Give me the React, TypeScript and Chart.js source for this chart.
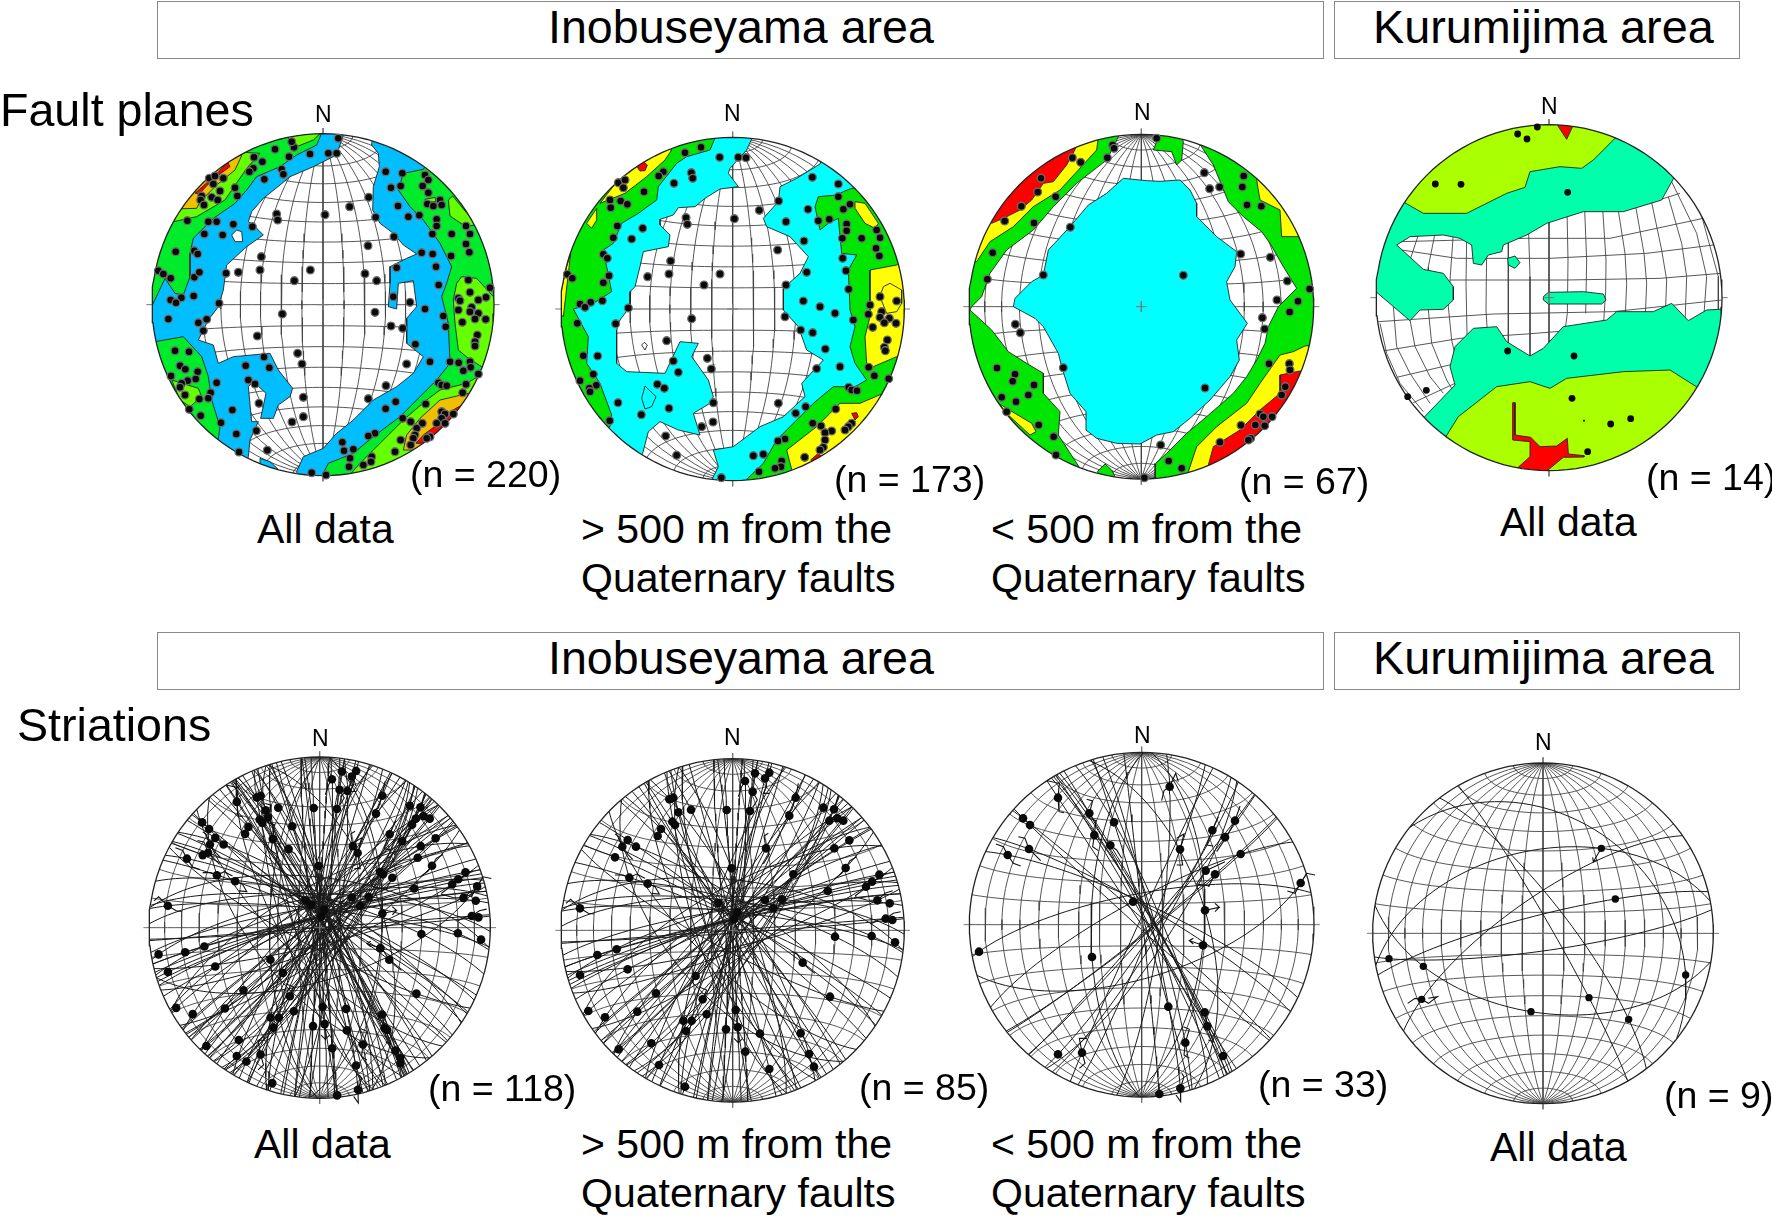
import React, { useEffect, useRef } from "react";
import { Chart, registerables } from "chart.js";

type P = number[];

// ---- text ----
const headerBoxes = [
  { x: 157, y: 1, w: 1167, h: 58 }, { x: 1334, y: 1, w: 406, h: 58 },
  { x: 157, y: 632, w: 1167, h: 58 }, { x: 1334, y: 632, w: 406, h: 58 },
];
const labels: [string, number, number, number][] = [
  ["Inobuseyama area", 548, 27, 46.6], ["Kurumijima area", 1373, 27, 46.8],
  ["Inobuseyama area", 548, 658, 46.6], ["Kurumijima area", 1373, 658, 46.8],
  ["Fault planes", 0, 110, 46.6], ["Striations", 17, 725, 46.6],
  ["N", 315, 114, 23], ["N", 724, 113, 23], ["N", 1134, 112, 23], ["N", 1541, 106, 23],
  ["N", 312, 738, 23], ["N", 724, 737, 23], ["N", 1134, 735, 23], ["N", 1535, 742, 23],
  ["(n = 220)", 410, 475, 37.5], ["(n = 173)", 834, 480, 37.5], ["(n = 67)", 1239, 482, 37.5], ["(n = 14)", 1646, 478, 37.5],
  ["(n = 118)", 428, 1089, 37.5], ["(n = 85)", 859, 1088, 37.5], ["(n = 33)", 1258, 1085, 37.5], ["(n = 9)", 1664, 1096, 37.5],
  ["All data", 257, 529, 41], ["> 500 m from the", 581, 529, 41], ["Quaternary faults", 581, 578, 41],
  ["< 500 m from the", 991, 529, 41], ["Quaternary faults", 991, 578, 41], ["All data", 1500, 522, 41],
  ["All data", 254, 1144, 41], ["> 500 m from the", 581, 1144, 41], ["Quaternary faults", 581, 1193, 41],
  ["< 500 m from the", 991, 1144, 41], ["Quaternary faults", 991, 1193, 41], ["All data", 1490, 1147, 41],
];

// ---- contour levels ----
const levelColours: Record<string, string> = {
  blue: "#00BEFF", cyan: "#00FFFF", green: "#00EB2A", pure: "#00E600", lime: "#64FF00", yellow: "#FFFF00",
  orange: "#F0C000", red: "#FF0000", spring: "#00FFAA", leaf: "#AAFF00", white: "#FFFFFF",
};

// ---- net 1 (fault planes, all data) ----
const contours1: [string, P[]][] = [
  ["blue", [[695,105],[715,130],[718,170],[700,230],[698,300],[720,340],[760,370],[790,405],[830,432],[800,445],[750,470],[750,520],[745,590],[770,597],[775,520],[820,512],[830,590],[800,625],[800,700],[850,740],[820,790],[770,830],[700,870],[640,930],[590,970],[550,1015],[490,1040],[470,1085],[480,1130],[700,1135],[1135,1135],[1135,50],[700,50]]],
  ["blue", [[615,60],[590,135],[520,170],[450,200],[420,225],[370,265],[335,305],[325,335],[340,345],[370,375],[320,410],[260,465],[250,540],[235,590],[205,630],[175,690],[220,705],[235,760],[280,740],[390,730],[415,780],[458,835],[450,860],[415,885],[400,925],[362,925],[378,850],[340,815],[325,830],[335,935],[355,935],[330,990],[325,1040],[300,1135],[5,1135],[5,40],[615,40]]],
  ["blue", [[360,1045],[390,1055],[415,1078],[400,1095],[360,1065]]],
  ["white", [[275,375],[290,360],[305,365],[308,395],[285,395]]],
  ["green", [[553,50],[530,105],[470,135],[420,170],[350,200],[320,240],[285,280],[220,325],[160,385],[150,430],[150,500],[130,555],[105,550],[75,505],[35,590],[5,590],[5,40]]],
  ["green", [[45,695],[130,680],[185,740],[205,800],[215,870],[240,950],[235,985],[200,1135],[5,1135],[5,695]]],
  ["green", [[850,178],[790,190],[775,240],[810,290],[850,330],[900,400],[935,470],[920,520],[905,560],[925,640],[930,760],[890,810],[840,860],[780,920],[700,980],[640,1030],[565,1060],[545,1100],[600,1135],[1135,1135],[1135,50],[900,100]]],
  ["lime", [[965,500],[1010,505],[1060,560],[1135,790],[1025,770],[985,745],[955,720],[945,640],[940,570],[950,520]]],
  ["lime", [[925,270],[938,258],[1010,345],[975,348],[930,318]]],
  ["lime", [[855,268],[885,262],[888,275],[860,275]]],
  ["lime", [[1030,790],[980,820],[900,840],[860,870],[790,930],[720,1000],[660,1060],[625,1100],[700,1135],[1135,1135]]],
  ["lime", [[360,130],[320,175],[255,270],[170,320],[100,335],[60,300],[190,120]]],
  ["lime", [[445,85],[470,110],[520,90],[552,60],[450,60]]],
  ["lime", [[95,810],[175,835],[185,860],[150,890],[120,870]]],
  ["orange", [[985,850],[900,870],[840,925],[800,975],[790,1020],[820,1020],[880,985],[975,885]]],
  ["red", [[975,880],[930,905],[890,945],[850,975],[828,1000],[845,1000],[880,985],[945,925]]],
  ["orange", [[305,137],[285,180],[230,225],[180,275],[170,295],[100,297],[170,200],[230,130]]],
  ["red", [[260,160],[232,190],[165,250],[180,250],[205,222],[240,192],[270,170],[250,130]]],
];
const net1Points: P[] = [[595,85],[510,132],[565,130],[590,130],[405,118],[462,112],[455,95],[447,140],[342,142],[367,155],[340,175],[328,185],[425,178],[430,193],[373,208],[208,205],[225,198],[250,205],[220,222],[240,243],[285,233],[292,258],[185,258],[182,270],[192,285],[215,262],[233,270],[142,332],[205,335],[230,335],[193,372],[280,343],[337,350],[248,375],[107,425],[163,422],[173,432],[55,482],[70,492],[92,505],[163,502],[178,487],[258,490],[295,487],[360,480],[364,440],[161,558],[124,563],[92,570],[108,578],[237,580],[85,627],[200,628],[175,638],[190,662],[352,678],[410,312],[413,330],[555,314],[629,290],[686,262],[707,322],[762,380],[684,407],[737,185],[787,190],[753,233],[782,228],[774,288],[805,320],[838,316],[855,195],[865,210],[848,228],[865,248],[862,282],[880,288],[900,270],[905,285],[890,328],[890,348],[877,372],[935,372],[978,348],[990,372],[978,402],[988,427],[845,428],[878,432],[933,438],[888,470],[770,473],[675,491],[710,512],[511,480],[463,512],[896,525],[985,510],[1050,533],[990,547],[955,565],[960,572],[1038,562],[1015,570],[760,560],[810,577],[855,597],[705,607],[427,612],[910,618],[955,600],[995,592],[990,605],[1015,610],[1005,627],[1037,628],[967,637],[917,650],[753,648],[788,655],[1012,675],[1005,695],[1005,708],[826,703],[870,755],[930,755],[956,758],[990,755],[992,772],[970,782],[1015,792],[800,762],[473,730],[486,762],[105,722],[147,725],[372,741],[317,767],[388,773],[120,767],[136,778],[93,798],[173,785],[167,807],[143,812],[125,820],[120,832],[230,818],[325,810],[345,822],[135,855],[212,848],[205,865],[178,867],[357,880],[490,862],[685,866],[738,827],[767,875],[737,896],[895,818],[905,825],[920,827],[978,823],[968,848],[857,882],[148,898],[182,917],[277,900],[490,920],[456,936],[243,938],[349,962],[289,972],[788,925],[812,935],[847,940],[830,955],[825,975],[820,985],[782,990],[905,905],[915,912],[905,925],[890,940],[915,940],[940,912],[870,980],[860,985],[705,970],[685,978],[607,997],[612,1022],[640,1018],[765,1025],[812,1005],[297,1026],[382,1021],[630,1045],[695,1040],[693,1055],[670,1065],[627,1070],[515,1088],[558,1095]];

// ---- net 2 (fault planes, > 500 m) ----
const contours2: [string, P[]][] = [
  ["cyan", [[617,60],[590,120],[540,175],[535,190],[565,230],[510,237],[465,265],[435,290],[385,293],[370,315],[330,328],[330,345],[360,375],[355,410],[280,425],[270,470],[255,530],[240,545],[240,590],[210,630],[200,660],[200,760],[230,785],[345,790],[390,695],[445,700],[425,740],[475,810],[490,860],[480,880],[430,910],[450,975],[385,960],[330,935],[295,965],[278,1030],[200,1135],[5,1135],[5,40],[617,40]]],
  ["cyan", [[810,162],[740,205],[690,230],[685,275],[640,325],[650,350],[720,380],[775,440],[750,490],[700,535],[700,600],[745,650],[770,720],[820,750],[755,820],[765,860],[700,920],[630,950],[550,1010],[490,1020],[505,1070],[480,1120],[500,1135],[1135,1135],[1135,50],[850,60]]],
  ["white", [[275,705],[283,697],[292,705],[285,720]]],
  ["cyan", [[275,865],[285,828],[318,860],[305,890],[285,897]]],
  ["pure", [[505,60],[480,120],[410,140],[380,160],[325,230],[320,270],[265,310],[215,340],[190,400],[160,420],[185,545],[130,580],[70,597],[115,680],[110,760],[150,820],[185,915],[180,950],[5,1000],[5,40],[505,40]]],
  ["pure", [[905,235],[880,245],[860,255],[805,260],[795,290],[810,360],[835,340],[865,325],[875,430],[920,435],[895,480],[900,600],[915,650],[900,710],[915,760],[950,810],[915,830],[850,830],[790,880],[730,940],[680,990],[640,1060],[590,1108],[620,1135],[1135,1135],[1135,200]]],
  ["yellow", [[365,120],[345,150],[290,200],[225,250],[150,280],[220,190],[280,100]]],
  ["yellow", [[140,295],[110,340],[125,355],[140,330]]],
  ["yellow", [[50,470],[62,430],[40,620],[20,600]]],
  ["red", [[262,172],[280,155],[292,165],[285,182],[270,183]]],
  ["yellow", [[915,275],[945,280],[985,340],[975,355],[945,340],[915,295]]],
  ["yellow", [[1040,465],[960,480],[960,540],[960,620],[945,680],[950,760],[970,770],[1040,740],[1100,700],[1100,440]]],
  ["yellow", [[1000,530],[1020,520],[1055,540],[1055,580],[1040,605],[1010,610],[990,560]]],
  ["yellow", [[1000,850],[930,880],[870,880],[800,950],[710,1020],[725,1078],[760,1135],[1135,1135],[1100,800]]],
  ["red", [[782,1050],[805,1030],[815,1040],[800,1060]]],
  ["red", [[905,910],[920,908],[925,920],[915,930]]],
];
const net2Points: P[] = [[453,112],[405,128],[509,142],[565,142],[588,143],[424,188],[428,205],[372,220],[787,202],[865,222],[340,185],[326,198],[205,218],[225,210],[220,233],[282,245],[865,260],[180,270],[182,293],[212,273],[232,283],[686,273],[628,301],[553,326],[408,323],[412,343],[202,348],[278,355],[245,387],[190,383],[774,298],[805,332],[838,328],[708,335],[880,298],[900,283],[890,342],[890,362],[877,385],[935,385],[980,360],[990,383],[762,393],[978,415],[988,438],[683,420],[878,445],[160,433],[172,445],[362,453],[888,482],[770,487],[510,492],[52,493],[67,505],[177,497],[160,518],[293,500],[357,492],[462,525],[708,525],[896,538],[990,560],[1040,573],[760,573],[157,572],[122,577],[90,582],[105,592],[235,594],[960,585],[810,590],[995,605],[955,613],[855,610],[705,620],[425,626],[990,622],[1018,625],[1003,638],[910,630],[197,641],[82,640],[968,652],[1038,640],[752,660],[788,668],[1012,690],[350,692],[1003,712],[1006,722],[826,717],[100,737],[143,738],[472,745],[370,753],[484,777],[800,776],[870,770],[956,772],[385,787],[130,793],[973,797],[1016,806],[90,812],[139,826],[118,835],[120,845],[322,823],[343,835],[896,832],[905,840],[921,842],[204,878],[490,878],[685,880],[767,890],[857,897],[357,895],[737,910],[274,914],[179,932],[489,936],[455,950],[788,940],[813,948],[845,963],[825,968],[905,940],[895,950],[885,960],[825,990],[820,1012],[347,978],[705,987],[684,993],[810,1020],[610,1037],[640,1033],[764,1042],[380,1036],[695,1053],[693,1070],[675,1075],[627,1085],[514,1103]];

// ---- net 3 (fault planes, < 500 m) ----
const contours3: [string, P[]][] = [
  ["cyan", [[490,205],[560,212],[600,214],[660,210],[690,240],[710,280],[710,320],[770,380],[830,425],[825,470],[800,515],[810,570],[862,640],[830,690],[838,750],[810,800],[750,870],[690,925],[640,965],[590,975],[540,1002],[470,1000],[410,985],[378,960],[378,905],[330,850],[305,770],[295,730],[250,650],[225,625],[160,590],[165,565],[215,515],[250,495],[265,420],[330,350],[385,285],[440,250]]],
  ["pure", [[485,60],[440,150],[350,220],[280,290],[220,360],[140,420],[90,490],[65,560],[35,590],[30,600],[95,660],[145,725],[200,760],[250,790],[250,850],[300,905],[295,975],[360,1075],[300,1135],[5,1135],[5,40],[485,40]]],
  ["pure", [[600,70],[580,120],[635,125],[650,165],[665,150],[670,95],[660,60]]],
  ["pure", [[718,100],[760,165],[805,275],[850,320],[905,365],[930,400],[970,470],[1010,535],[955,590],[925,650],[915,700],[890,750],[860,800],[820,850],[740,920],[680,970],[620,1030],[587,1060],[585,1110],[600,1135],[1135,1135],[1135,60],[760,60]]],
  ["pure", [[412,1085],[435,1062],[455,1080],[470,1110],[430,1115]]],
  ["yellow", [[415,80],[410,120],[300,240],[220,290],[160,350],[90,395],[50,455],[10,455],[5,300],[300,40]]],
  ["red", [[355,100],[320,165],[280,215],[250,220],[215,270],[180,300],[130,325],[95,340],[60,200],[300,50]]],
  ["yellow", [[890,210],[900,270],[960,300],[965,380],[1015,380],[1100,300],[950,150]]],
  ["yellow", [[1035,708],[1000,725],[960,735],[900,820],[860,880],[770,950],[710,1010],[685,1085],[720,1135],[1135,1135],[1135,700]]],
  ["red", [[1020,783],[960,795],[960,850],[900,900],[840,960],[760,1010],[745,1065],[780,1135],[1135,1100],[1135,800]]],
  ["yellow", [[115,880],[215,940],[228,965],[210,975],[145,915]]],
];
const net3Points: P[] = [[590,85],[458,105],[462,115],[442,143],[337,143],[362,157],[243,205],[233,246],[287,260],[184,289],[134,333],[222,339],[331,352],[98,428],[250,495],[82,508],[733,188],[851,198],[847,231],[779,231],[749,236],[861,285],[904,289],[842,432],[931,442],[670,496],[982,513],[1049,537],[951,570],[1014,574],[989,606],[907,623],[914,657],[166,643],[181,668],[927,761],[988,761],[990,780],[111,774],[310,773],[165,793],[158,814],[222,825],[976,830],[735,834],[205,855],[965,855],[125,862],[168,875],[140,905],[900,912],[910,920],[936,920],[236,945],[886,945],[843,946],[914,947],[281,980],[872,985],[865,990],[780,997],[602,1005],[288,1035],[626,1053],[665,1075],[553,1103]];

// ---- net 4 (fault planes, Kurumijima) ----
const contours4: [string, P[]][] = [
  ["spring", [[960,170],[905,270],[790,305],[670,305],[560,340],[500,375],[430,405],[425,425],[385,435],[365,465],[340,460],[335,405],[300,385],[250,375],[150,380],[110,405],[190,478],[250,490],[280,530],[280,570],[250,598],[180,600],[150,632],[30,530],[5,500],[5,100],[130,30],[800,30],[960,60]]],
  ["spring", [[443,445],[465,438],[480,458],[465,475],[445,465]]],
  ["spring", [[550,560],[565,547],[670,545],[730,552],[738,570],[725,582],[565,582],[550,570]]],
  ["spring", [[175,940],[285,825],[270,770],[285,710],[340,655],[410,650],[440,695],[510,738],[550,715],[610,650],[740,630],[770,605],[880,605],[935,580],[985,632],[1040,600],[1135,595],[1135,1135],[400,1135],[250,1000]]],
  ["leaf", [[120,270],[190,310],[320,310],[440,250],[495,232],[510,185],[600,170],[665,175],[700,150],[775,75],[700,20],[300,20],[100,100]]],
  ["leaf", [[245,1000],[295,920],[410,830],[510,815],[570,835],[620,805],[790,785],[930,780],[1025,840],[1100,900],[1100,1135],[300,1135]]],
  ["red", [[585,20],[592,45],[620,88],[640,45],[650,20]]],
  ["red", [[458,878],[465,878],[465,975],[512,982],[540,1010],[590,1008],[622,985],[625,1032],[672,1037],[672,1041],[610,1042],[570,1075],[545,1095],[460,1085],[510,1040],[510,995],[458,990]]],
];
const net4Points: P[] = [[532,51],[473,72],[501,87],[226,222],[303,223],[623,247],[443,723],[642,738],[199,841],[143,860],[636,865],[812,926],[752,942],[683,1025]];
const net4SmallPoints: P[] = [[672,932]];
const net4Meridians: P[][] = [
  [[567,200],[567,900]], [[620,250],[624,450],[622,610],[610,700]], [[672,250],[680,450],[677,610]],
  [[725,250],[738,450],[737,545],[730,650]], [[770,270],[795,430],[800,520],[795,640]], [[820,250],[852,430],[860,520],[855,640]],
  [[865,230],[905,420],[920,510],[915,640]], [[925,260],[965,400],[980,500],[975,640]], [[935,215],[1010,370],[1040,500],[1030,640]],
  [[1020,300],[1075,500],[1075,620]], [[505,340],[510,500],[510,760]], [[445,380],[445,720]], [[380,420],[378,600],[385,720]],
  [[320,385],[318,520],[322,720]], [[280,370],[270,510],[265,590],[275,690],[300,800]], [[225,370],[205,470],[205,600],[215,700],[260,810],[290,860]],
  [[175,375],[150,450],[150,630],[165,710],[210,800],[250,850]], [[100,590],[110,710],[150,790],[210,880]], [[60,640],[80,730],[120,820],[190,905]],
];
const net4Parallels: P[][] = [
  [[120,395],[500,385],[750,385],[1030,325]], [[125,420],[290,445],[570,445],[860,430],[1060,405]],
  [[270,510],[620,510],[900,505],[1082,490]], [[55,635],[400,612],[760,605],[1085,570]],
  [[75,722],[300,685],[500,672],[650,660]], [[110,802],[290,760]], [[160,878],[285,820]], [[800,300],[960,250]],
];

// ---- striation nets: each plane is [dot x, dot y, second x, second y on the same great circle] ----
const planes6: P[] = [[615,130,540,560],[658,128,550,570],[585,153,575,600],[645,145,537,617],[608,185,539,637],[737,203,543,636],[370,203,545,631],[358,208,480,620],[530,240,552,670],[600,243,555,670],[423,239,620,690],[385,247,500,610],[718,257,420,720],[820,233,555,565],[852,238,620,620],[838,272,560,560],[862,265,640,470],[880,272,480,700],[367,275,558,587],[375,285,470,700],[333,297,630,640],[323,318,555,565],[233,330,550,565],[217,350,430,640],[258,350,640,560],[195,382,560,565],[648,355,549,557],[898,331,620,520],[853,355,440,520],[887,414,600,660],[545,415,652,737],[730,433,520,760],[238,443,430,760],[293,461,660,610],[988,434,529,567],[966,455,650,500],[948,470,560,660],[833,483,466,596],[645,510,462,670],[696,508,430,500],[505,519,677,759],[982,511,600,640],[1019,520,700,520],[670,535,405,607],[90,535,565,547],[562,547,431,663],[552,568,751,429],[1007,566,521,603],[1027,570,613,605],[855,620,430,480],[965,618,600,520],[1035,637,680,470],[200,658,550,570],[142,675,560,565],[758,698,474,504],[233,718,555,565],[90,735,555,565],[437,738,648,489],[318,790,609,545],[840,800,420,600],[458,808,639,504],[557,840,443,490],[115,843,420,620],[262,845,620,440],[165,862,600,460],[470,853,720,460],[400,872,500,501],[425,872,532,496],[408,903,680,560],[563,892,516,511],[528,898,549,514],[630,911,420,600],[752,910,440,430],[304,940,700,480],[206,958,480,700],[586,965,553,542],[777,972,620,600],[792,1010,430,420],[327,1005,538,582],[658,1017,540,560],[405,1070,560,570]];
const slips6: P[][] = [
  [[48,520],[62,508],[90,535],[115,550],[132,552]], [[655,310],[642,318],[648,355],[658,372],[640,402]], [[920,380],[900,392],[887,414],[875,430],[855,445]],
  [[195,435],[220,435],[238,443],[260,432],[285,445]], [[293,461],[315,470],[328,492],[305,490]], [[725,665],[740,670],[758,698],[775,715],[795,730]],
  [[563,892],[565,938],[552,925],[565,938],[578,925]], [[462,700],[450,715],[437,738],[425,760],[410,772]], [[458,808],[470,780],[445,770]],
  [[1028,482],[1005,490],[982,511],[950,510],[915,500]], [[1052,545],[1030,550],[1007,566],[985,570],[962,582]], [[1010,430],[990,440],[966,455],[945,475],[915,498]],
  [[585,153],[575,170],[565,200]], [[645,145],[650,170],[640,190],[658,190]], [[608,185],[622,210],[608,232]], [[745,160],[737,203],[725,240],[708,248]],
  [[865,195],[852,238]], [[195,312],[205,318],[217,350],[235,375],[248,388]],
];
const planes7: P[] = [[629,170,600,600],[294,203,562,611],[388,250,589,630],[462,277,611,588],[189,265,569,585],[210,285,455,517],[403,315,541,547],[451,346,593,593],[207,357,560,530],[143,375,545,515],[660,358,525,709],[757,301,551,680],[825,272,527,631],[795,322,515,658],[842,372,503,653],[737,422,538,741],[765,433,462,681],[1022,459,626,724],[519,515,850,370],[57,665,600,480],[735,541,740,1000],[729,646,735,541],[396,681,413,380],[625,830,500,400],[734,847,545,520],[742,889,550,520],[676,938,560,500],[366,968,555,539],[294,973,592,586],[789,978,550,530],[661,1075,560,520],[598,1092,540,500]];
const slips7: P[][] = [
  [[655,155],[647,130],[629,170],[612,182],[605,212]], [[262,152],[298,160],[294,203],[297,245],[312,248]], [[385,265],[408,272],[403,315],[398,350],[415,362]],
  [[380,208],[398,213],[388,250]], [[451,346],[470,360],[485,385]], [[175,320],[195,325],[207,357],[230,380],[242,392]], [[108,342],[130,350],[143,375],[160,400],[182,408]],
  [[650,325],[672,312],[660,358],[668,405],[650,405]], [[775,260],[757,301],[740,345],[760,348]], [[840,228],[825,272],[800,320],[770,365]], [[795,395],[737,422],[710,462],[750,468]],
  [[765,433],[745,470]], [[1065,435],[1040,430],[1022,459],[1005,490],[982,483]], [[735,541],[778,532],[765,520],[778,532],[765,545]], [[729,646],[688,632],[700,625],[688,632],[700,642]],
  [[735,847],[742,889],[760,935],[745,930]], [[670,890],[688,898],[676,938],[672,975],[688,985]], [[380,925],[358,925],[366,968],[375,1000],[358,1015]], [[665,1030],[672,1040],[661,1075],[662,1115],[648,1095]],
];
const planes8: P[] = [[724,355,350,410],[977,735,400,215],[190,709,513,845],[87,686,570,660],[687,803,450,390],[806,868,550,480],[185,808,490,520],[766,507,480,570]];
const extraDots8: P[] = [[513,845]];
const slips8: P[][] = [[[724,355],[700,395],[698,382],[700,395],[712,390]], [[143,820],[165,805],[185,808],[205,820],[232,800],[205,805]]];

// ---- net frames (crop-origin page position, circle in chart units) ----
const frames = [
  { left: 140, top: 110, cx: 549, cy: 584, r: 513 }, { left: 550, top: 110, cx: 548, cy: 597, r: 515 },
  { left: 960, top: 110, cx: 544, cy: 590, r: 517 }, { left: 1360, top: 110, cx: 567, cy: 563, r: 519 },
  { left: 140, top: 730, cx: 539, cy: 593, r: 512 }, { left: 550, top: 730, cx: 548, cy: 601, r: 515 },
  { left: 960, top: 730, cx: 545, cy: 584, r: 517 }, { left: 1360, top: 730, cx: 549, cy: 610, r: 511 },
];

// ---- equal-area lower-hemisphere geometry ----
const rad = Math.PI / 180;
const project = (v: P) => { const k = 1 / Math.sqrt(1 + v[2]); return [v[0] * k, v[1] * k]; };
const unproject = (X: number, Y: number) => { const r2 = X * X + Y * Y; const s = Math.sqrt(Math.max(0, 2 - r2)); return [X * s, Y * s, 1 - r2]; };
const cross = (a: P, b: P) => [a[1] * b[2] - a[2] * b[1], a[2] * b[0] - a[0] * b[2], a[0] * b[1] - a[1] * b[0]];
const unit = (a: P) => { const n = Math.hypot(a[0], a[1], a[2]) || 1; return [a[0] / n, a[1] / n, a[2] / n]; };
const toNorm = (f: any, x: number, y: number) => [(x - f.cx) / f.r, (y - f.cy) / f.r];
const toXY = (f: any, p: P) => ({ x: f.cx + p[0] * f.r, y: f.cy + p[1] * f.r });

function gridCurves(): P[][] {
  const out: P[][] = [];
  for (let L = -80; L <= 80; L += 10) {
    const c: P[] = [];
    for (let a = -90; a <= 90; a += 4) c.push(project([Math.cos(a * rad) * Math.sin(L * rad), Math.sin(a * rad), Math.cos(a * rad) * Math.cos(L * rad)]));
    out.push(c);
  }
  for (let a = -80; a <= 80; a += 10) {
    const c: P[] = [];
    for (let L = -90; L <= 90; L += 4) c.push(project([Math.cos(a * rad) * Math.sin(L * rad), Math.sin(a * rad), Math.cos(a * rad) * Math.cos(L * rad)]));
    out.push(c);
  }
  return out;
}
function greatCircle(a: P, b: P): P[] {
  const n = cross(unproject(a[0], a[1]), unproject(b[0], b[1]));
  const s = unit([n[1], -n[0], 0]);
  let d = unit(cross(n, s));
  if (d[2] < 0) d = d.map((v) => -v);
  const c: P[] = [];
  for (let t = 0; t <= 180; t += 4) {
    const ct = Math.cos(t * rad), st = Math.sin(t * rad);
    c.push(project(unit([s[0] * ct + d[0] * st, s[1] * ct + d[1] * st, Math.max(0, s[2] * ct + d[2] * st)])));
  }
  return c;
}
const circle = (): P[] => { const c: P[] = []; for (let t = 0; t <= 360; t += 3) c.push([Math.cos(t * rad), Math.sin(t * rad)]); return c; };

const lineDs = (data: any[], color: string, width: number, extra: any = {}) => ({ type: "scatter", showLine: true, data, borderColor: color, borderWidth: width, pointRadius: 0, tension: 0, fill: false, backgroundColor: "transparent", ...extra });

function crossTicks(f: any): any[] {
  const o = 17, c = 16;
  const seg = (x0: number, y0: number, x1: number, y1: number) => lineDs([{ x: x0, y: y0 }, { x: x1, y: y1 }], "#777", 1);
  return [
    seg(f.cx, f.cy - f.r - o, f.cx, f.cy - f.r), seg(f.cx, f.cy + f.r, f.cx, f.cy + f.r + o),
    seg(f.cx - f.r - o, f.cy, f.cx - f.r, f.cy), seg(f.cx + f.r, f.cy, f.cx + f.r + o, f.cy),
    seg(f.cx - c, f.cy, f.cx + c, f.cy), seg(f.cx, f.cy - c, f.cx, f.cy + c),
  ];
}
const dots = (pts: P[], radius: number, halo: boolean) => ({ type: "scatter", data: pts.map((p) => ({ x: p[0], y: p[1] })), pointRadius: radius, pointBackgroundColor: "#0a0a0a", pointBorderColor: halo ? "#6e6e6e" : "#0a0a0a", pointBorderWidth: halo ? 1.3 : 0, showLine: false });
const closed = (p: P[]) => [...p, p[0]].map((q) => ({ x: q[0], y: q[1] }));

function contourNet(f: any, contours: [string, P[]][], points: P[], opts: any = {}) {
  const grid = opts.grid
    ? opts.grid.map((l: P[]) => lineDs(l.map((q) => ({ x: q[0], y: q[1] })), "#444", 0.9, { discClip: true }))
    : gridCurves().map((l) => lineDs(l.map((p) => toXY(f, p)), "#444", 0.9, { discClip: true }));
  const polys = contours.map(([lvl, p]) => lineDs(closed(p), "#222", 0.9, { fill: "shape", backgroundColor: levelColours[lvl], discClip: true }));
  const rim = lineDs(circle().map((p) => toXY(f, p)), "#222", 1.3);
  const extra = (opts.small || []).length ? [dots(opts.small, 1, false)] : [];
  return [...grid, ...polys, ...crossTicks(f), rim, dots(points, opts.radius ?? 3.9, opts.halo ?? true), ...extra];
}
function slipNet(f: any, planes: P[][], dotsN: P[][], slips: any[], radius: number) {
  const grid = gridCurves().map((l) => lineDs(l.map((p) => toXY(f, p)), "#444", 0.9, { discClip: true }));
  const pl = planes.map((c) => lineDs(c.map((p) => toXY(f, p)), "#1a1a1a", 1, { discClip: true }));
  const sl = slips.map((c: P[]) => lineDs(c.map((p) => toXY(f, p)), "#111", 1.1));
  const rim = lineDs(circle().map((p) => toXY(f, p)), "#222", 1.3);
  return [...grid, ...pl, ...crossTicks(f), rim, ...sl, dots(dotsN.map((p) => { const q = toXY(f, p); return [q.x, q.y]; }), radius, false)];
}
const normPlanes = (fr: any, list: P[]) => list.map((r) => greatCircle(toNorm(fr, r[0], r[1]), toNorm(fr, r[2], r[3])));
const normDots = (fr: any, list: P[]) => list.map((r) => toNorm(fr, r[0], r[1]));
const normSlips = (fr: any, list: P[][]) => list.map((s) => s.map((r) => toNorm(fr, r[0], r[1])));

function buildNets(): any[][] {
  const [f0, f1, f2, f3, f4, f5, f6, f7] = frames;
  const p6 = normPlanes(f5, planes6), p7 = normPlanes(f6, planes7), p8 = normPlanes(f7, planes8);
  const d6 = normDots(f5, planes6), d7 = normDots(f6, planes7), d8 = [...normDots(f7, planes8), ...normDots(f7, extraDots8)];
  const s6 = normSlips(f5, slips6), s7 = normSlips(f6, slips7), s8 = normSlips(f7, slips8);
  return [
    contourNet(f0, contours1, net1Points),
    contourNet(f1, contours2, net2Points),
    contourNet(f2, contours3, net3Points),
    contourNet(f3, contours4, net4Points, { grid: [...net4Meridians, ...net4Parallels], radius: 3.4, halo: false, small: net4SmallPoints }),
    slipNet(f4, [...p6, ...p7], [...d6, ...d7], [...s6, ...s7], 4.3),
    slipNet(f5, p6, d6, s6, 4.3),
    slipNet(f6, p7, d7, s7, 4.3),
    slipNet(f7, p8, d8, s8, 3.7),
  ];
}

// clip selected datasets (fills included) to the primitive circle
const discClip = {
  id: "discClip",
  beforeDatasetDraw(chart: any, args: any) {
    const ds = chart.data.datasets[args.index];
    if (!ds.discClip) return;
    const f = chart.options.plugins.discClip;
    const sx = chart.scales.x, sy = chart.scales.y;
    const ctx = chart.ctx;
    ctx.save();
    ctx.beginPath();
    ctx.arc(sx.getPixelForValue(f.cx), sy.getPixelForValue(f.cy), Math.abs(sx.getPixelForValue(f.cx + f.r) - sx.getPixelForValue(f.cx)), 0, Math.PI * 2);
    ctx.clip();
  },
  afterDatasetDraw(chart: any, args: any) {
    if (chart.data.datasets[args.index].discClip) chart.ctx.restore();
  },
};
Chart.register(discClip as any);
Chart.register(...registerables);

function Net({ frame, datasets }: { frame: any; datasets: any[] }) {
  const ref = useRef<HTMLCanvasElement>(null);
  useEffect(() => {
    const n = datasets.length;
    const chart = new Chart(ref.current as any, {
      type: "scatter",
      data: { datasets: datasets.map((d, i) => ({ ...d, order: n - i })) },
      options: {
        responsive: false, animation: false, maintainAspectRatio: false,
        layout: { padding: 0, autoPadding: false },
        events: [],
        scales: {
          x: { type: "linear", min: 0, max: 1140, display: false },
          y: { type: "linear", min: 0, max: 1140, reverse: true, display: false },
        },
        plugins: { legend: { display: false }, tooltip: { enabled: false }, discClip: frame },
      } as any,
    } as any);
    return () => chart.destroy();
  }, []);
  return <canvas ref={ref} width={380} height={380} style={{ position: "absolute", left: frame.left, top: frame.top, width: 380, height: 380 }} />;
}

export default function App() {
  const nets = buildNets();
  return (
    <div style={{ position: "absolute", left: 0, top: 0, width: 1772, height: 1216, overflow: "hidden", background: "#fff", fontFamily: "'Liberation Sans', Arial, sans-serif", color: "#000" }}>
      {headerBoxes.map((b, i) => (
        <div key={i} style={{ position: "absolute", left: b.x, top: b.y, width: b.w, height: b.h, boxSizing: "border-box", border: "1.5px solid #888" }} />
      ))}
      {frames.map((f, i) => <Net key={i} frame={f} datasets={nets[i]} />)}
      {labels.map(([t, x, y, s], i) => (
        <div key={i} style={{ position: "absolute", left: x, top: y, fontSize: s, lineHeight: 1, whiteSpace: "nowrap", transform: "translateY(-50%)" }}>{t}</div>
      ))}
    </div>
  );
}
